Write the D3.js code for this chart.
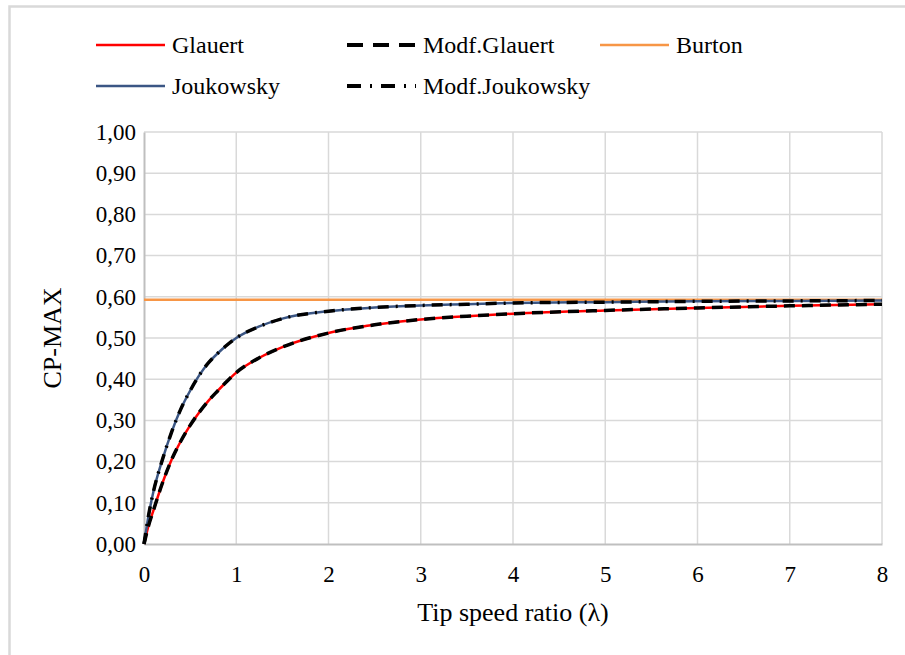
<!DOCTYPE html>
<meta charset="UTF-8">
<style>
body { margin: 0; background: #fff; }
svg text { font-family: "Liberation Serif", "Times New Roman", serif; fill: #000; }
.grid line { stroke: #d9d9d9; stroke-width: 1.5px; }
.series { fill: none; }
</style>
<body>
<script src="https://cdn.jsdelivr.net/npm/d3@7"></script>
<script>
// tip speed ratio samples
var lambda = [0, 0.05, 0.1, 0.2, 0.3, 0.4, 0.5, 0.6, 0.7, 0.8, 0.9, 1, 1.25, 1.5, 2, 2.5, 3, 3.5, 4, 5, 6, 7, 8];

var glauert      = [0, 0.045, 0.080, 0.148, 0.205, 0.250, 0.288, 0.320, 0.348, 0.372, 0.395, 0.416, 0.452, 0.478, 0.512, 0.532, 0.545, 0.553, 0.559, 0.567, 0.573, 0.578, 0.582];
var modGlauert   = [0, 0.045, 0.080, 0.148, 0.205, 0.250, 0.288, 0.320, 0.348, 0.372, 0.395, 0.416, 0.452, 0.478, 0.512, 0.532, 0.545, 0.553, 0.559, 0.567, 0.573, 0.578, 0.582];
var joukowsky    = [0, 0.070, 0.125, 0.205, 0.272, 0.328, 0.372, 0.410, 0.440, 0.463, 0.483, 0.500, 0.528, 0.547, 0.565, 0.574, 0.579, 0.582, 0.585, 0.587, 0.589, 0.590, 0.591];
var modJoukowsky = [0, 0.070, 0.125, 0.205, 0.272, 0.328, 0.372, 0.410, 0.440, 0.463, 0.483, 0.500, 0.528, 0.547, 0.565, 0.574, 0.579, 0.582, 0.585, 0.587, 0.589, 0.590, 0.591];
var burton = 16 / 27;

var xTicks = [0, 1, 2, 3, 4, 5, 6, 7, 8];
var yTicks = [0, 0.1, 0.2, 0.3, 0.4, 0.5, 0.6, 0.7, 0.8, 0.9, 1.0];

var W = 905, H = 655;
var margin = {top: 132, right: 23, bottom: 111, left: 144};

var svg = d3.select("body").append("svg")
    .attr("width", W)
    .attr("height", H);

// outer chart border (only left/top fall inside the picture)
svg.append("rect")
    .attr("x", 9.5).attr("y", 6.5)
    .attr("width", 1000).attr("height", 1000)
    .attr("fill", "none")
    .attr("stroke", "#d9d9d9")
    .attr("stroke-width", 2.5);

var x = d3.scaleLinear().domain([0, 8]).range([margin.left, W - margin.right]);
var y = d3.scaleLinear().domain([0, 1]).range([H - margin.bottom, margin.top]);

var comma = d3.formatLocale({decimal: ",", thousands: ".", grouping: [3], currency: ["", ""]});
var fmtY = comma.format(".2f");

// gridlines
var grid = svg.append("g").attr("class", "grid");
grid.selectAll(".gy").data(yTicks.slice(1)).enter().append("line")
    .attr("x1", x(0)).attr("x2", x(8))
    .attr("y1", d => y(d)).attr("y2", d => y(d));
grid.selectAll(".gx").data(xTicks.slice(1)).enter().append("line")
    .attr("y1", y(0)).attr("y2", y(1))
    .attr("x1", d => x(d)).attr("x2", d => x(d));

// axes
var xAxis = svg.append("g")
    .attr("transform", "translate(0," + y(0) + ")")
    .call(d3.axisBottom(x).tickValues(xTicks).tickSize(0).tickPadding(22).tickFormat(d3.format("d")));
var yAxis = svg.append("g")
    .attr("transform", "translate(" + x(0) + ",0)")
    .call(d3.axisLeft(y).tickValues(yTicks).tickSize(0).tickPadding(8).tickFormat(fmtY));
[xAxis, yAxis].forEach(function(a) {
  a.attr("font-family", null).attr("font-size", null);
  a.select(".domain").attr("stroke", "#bfbfbf").attr("stroke-width", 2);
  a.selectAll("text")
    .style("font-family", "'Liberation Serif', serif")
    .style("font-size", "23px")
    .attr("fill", "#000");
});

// axis titles
svg.append("text")
    .attr("x", (x(0) + x(8)) / 2).attr("y", 621)
    .attr("text-anchor", "middle")
    .style("font-size", "26px")
    .text("Tip speed ratio (λ)");
svg.append("text")
    .attr("transform", "translate(61," + ((y(0) + y(1)) / 2) + ") rotate(-90)")
    .attr("text-anchor", "middle")
    .style("font-size", "26px")
    .text("CP-MAX");

var line = d3.line()
    .x((d, i) => x(lambda[i]))
    .y(d => y(d))
    .curve(d3.curveMonotoneX);

var series = [
  {name: "Burton", values: lambda.map(() => burton), color: "#f79646", width: 2.5, dash: null, key: null},
  {name: "Glauert", values: glauert, color: "#ff0000", width: 2.5, dash: null, key: null},
  {name: "Joukowsky", values: joukowsky, color: "#3b5684", width: 2.5, dash: null, key: null},
  {name: "Modf.Glauert", values: modGlauert, color: "#000", width: 3.5, dash: "11,7", key: "16,10"},
  {name: "Modf.Joukowsky", values: modJoukowsky, color: "#000", width: 3.5, dash: "11,7,2,7", key: "14,9,2,9"}
];

svg.selectAll(".series").data(series).enter().append("path")
    .attr("class", "series")
    .attr("d", d => line(d.values))
    .attr("stroke", d => d.color)
    .attr("stroke-width", d => d.width)
    .attr("stroke-dasharray", d => d.dash);

// legend
var legendItems = [
  {s: series[1], x: 96, y: 45},
  {s: series[3], x: 347, y: 45},
  {s: series[0], x: 600, y: 45},
  {s: series[2], x: 96, y: 86},
  {s: series[4], x: 347, y: 86}
];
var lg = svg.selectAll(".legend").data(legendItems).enter().append("g")
    .attr("transform", d => "translate(" + d.x + "," + d.y + ")");
lg.append("line")
    .attr("x1", 0).attr("x2", 69)
    .attr("stroke", d => d.s.color)
    .attr("stroke-width", d => d.s.key ? 4 : 2.5)
    .attr("stroke-dasharray", d => d.s.key);
lg.append("text")
    .attr("x", 76).attr("dy", "0.35em")
    .style("font-size", "24px")
    .text(d => d.s.name);
</script>
</body>
